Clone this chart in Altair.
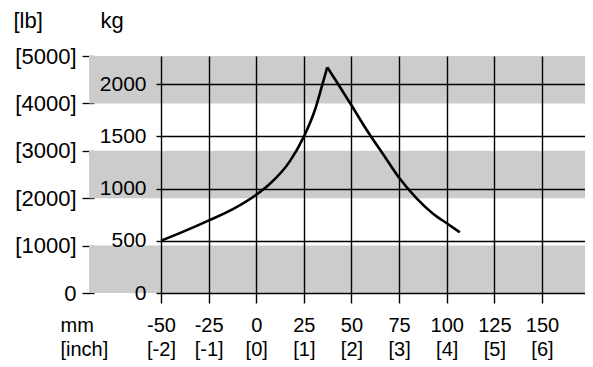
import altair as alt
import pandas as pd

# Curve: displacement [mm] vs force [kg]
mm = [-50, -38.3, -24.8, -12, 0, 7.2, 17.7, 25, 30.8, 34.4, 37.3,
      42.2, 49.9, 58, 66.7, 74.9, 84.2, 93, 100, 106.9]
kg = [500, 587, 695, 805, 940, 1045, 1262, 1496, 1751, 1974, 2160,
      2022, 1799, 1560, 1325, 1105, 906, 756, 667, 581]
PEAK = 10  # index of the peak point (shared by both branches)

# Shaded bands in lb
band_lo = [0, 2000, 4000]
band_hi = [1000, 3000, 5000]

x_ticks = [-50, -25, 0, 25, 50, 75, 100, 125, 150]
kg_ticks = [0, 500, 1000, 1500, 2000]
lb_ticks = [0, 1000, 2000, 3000, 4000, 5000]

LB_MAX = 5000
KG_MAX = 5000 * 0.45359237
X_DOMAIN = [-50, 172.6]

FONT = "Liberation Sans"

rise = pd.DataFrame({"mm": mm[:PEAK + 1], "kg": kg[:PEAK + 1], "branch": "rise"})
fall = pd.DataFrame({"mm": mm[PEAK:], "kg": kg[PEAK:], "branch": "fall"})
curve = pd.concat([rise, fall], ignore_index=True)
bands = pd.DataFrame({"lo": band_lo, "hi": band_hi})

band_layer = alt.Chart(bands).mark_rect(color="#cccccc").encode(
    x=alt.value(-72),
    x2=alt.value(424),
    y=alt.Y(
        "lo:Q",
        scale=alt.Scale(domain=[0, LB_MAX], nice=False, zero=True),
        axis=alt.Axis(
            orient="left", values=lb_ticks, offset=67, tickSize=12,
            tickColor="black", tickWidth=1.3, domain=False, grid=False,
            labelPadding=6, labelFont=FONT, labelFontSize=22,
            labelColor="black", labelFlush=False, labelOverlap=False,
            labelExpr="datum.value == 0 ? '0' : '[' + datum.value + ']'",
            title="[lb]", titleAngle=0, titleAlign="left",
            titleBaseline="alphabetic", titleX=-81, titleY=-29,
            titleFont=FONT, titleFontSize=22, titleFontWeight="normal",
            titleColor="black",
        ),
    ),
    y2="hi:Q",
)

line_layer = alt.Chart(curve).mark_line(
    color="black", strokeWidth=2.6, interpolate="monotone"
).encode(
    x=alt.X(
        "mm:Q",
        scale=alt.Scale(domain=X_DOMAIN, nice=False, zero=False),
        axis=alt.Axis(
            values=x_ticks, grid=True, gridColor="black", gridWidth=1.4,
            gridOpacity=1, domain=False, tickSize=10, tickColor="black",
            tickWidth=1.4, labelFont=FONT, labelFontSize=20,
            labelColor="black", labelFlush=False, labelOverlap=False,
            labelBaseline="alphabetic", labelPadding=28,
            labelLineHeight=24,
            labelExpr="['' + datum.value, '[' + (datum.value / 25) + ']']",
            title=["mm", "[inch]"], titleAngle=0, titleAlign="left",
            titleBaseline="alphabetic", titleX=-101, titleY=38,
            titleLineHeight=24, titleFont=FONT, titleFontSize=20,
            titleFontWeight="normal", titleColor="black", zindex=1,
        ),
    ),
    y=alt.Y(
        "kg:Q",
        scale=alt.Scale(domain=[0, KG_MAX], nice=False, zero=True),
        axis=alt.Axis(
            orient="left", values=kg_ticks, grid=True, gridColor="black",
            gridWidth=1.4, gridOpacity=1, domain=False, tickSize=5,
            tickColor="black", tickWidth=1.4, labelPadding=10,
            labelFont=FONT, labelFontSize=21, labelColor="black",
            labelFlush=False, labelOverlap=False,
            labelExpr="'' + datum.value",
            title="kg", titleAngle=0, titleAlign="left",
            titleBaseline="alphabetic", titleX=-61, titleY=-29,
            titleFont=FONT, titleFontSize=22, titleFontWeight="normal",
            titleColor="black", zindex=1,
        ),
    ),
    detail="branch:N",
)

chart = alt.layer(band_layer, line_layer).resolve_scale(
    y="independent"
).properties(
    width=424,
    height=237,
    autosize=alt.AutoSizeParams(type="none"),
    padding={"left": 153, "top": 48, "right": 0, "bottom": 70},
).configure_view(stroke=None)

chart.save("out.html", embed_options={"renderer": "svg", "actions": False})
